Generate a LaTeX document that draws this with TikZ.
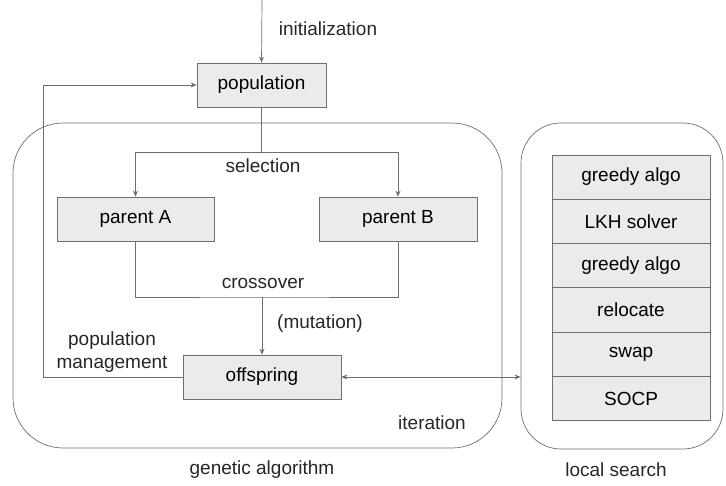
\documentclass[tikz,border=0pt]{standalone}
\usepackage{fontspec}
\setmainfont{Liberation Sans}
\usepackage{tikz}
\usetikzlibrary{arrows.meta,positioning,calc}
\definecolor{linegray}{HTML}{6E6E6E}
\definecolor{boxgray}{HTML}{EBEBEB}
\tikzset{
 box/.style={draw=linegray,fill=boxgray,minimum height=44pt,inner sep=0pt},
 frame/.style={draw=linegray,rounded corners=#1,inner sep=0pt},
 lbl/.style={inner sep=0pt,text=black!85,align=center}
}

\begin{document}
\begin{tikzpicture}[x=1pt,y=-1pt,font=\fontsize{19}{23}\selectfont,>={Stealth[length=6pt,width=5pt]},line width=0.7pt,draw=linegray]
\useasboundingbox (0,0) rectangle (726,486);
% frames
\node[frame=50pt,minimum width=489pt,minimum height=325pt](ga) at (257.5,285.5){};
\node[frame=40pt,minimum width=202pt,minimum height=326pt](ls) at (622,286){};
% boxes
\node[box,minimum width=129pt](pop) at (261.5,85){population};
\node[box,minimum width=157pt](parA) at (135.5,219){parent A};
\node[box,minimum width=158pt](parB) at (398,219){parent B};
\node[box,minimum width=158pt](offs) at (262,377){offspring};
\foreach \i/\t in {1/greedy algo,2/LKH solver,3/greedy algo,4/relocate,5/swap,6/SOCP}
 {\node[box,minimum width=158pt,minimum height=44.3pt](ls\i) at (631,{154.9+(\i-0.5)*44.3}){\t};}
% labels
\node[lbl](init) at (328,29){initialization};
\node[lbl](selL) at (263,166){selection};
\node[lbl](crossL) at (263,283){crossover};
\node[lbl](mutL) at (320,324){(mutation)};
\node[lbl](pmL) at (112,352){population\\management};
\node[lbl](iterL) at (432,423){iteration};
\node[lbl](gaL) at (262,470){genetic algorithm};
\node[lbl](lsL) at (616,470){local search};
% connectors
\coordinate(top) at (262,0);
\coordinate(sel) at (261.5,152);
\coordinate(cross) at (262,297);
\coordinate(back) at (43,377);
\draw[->](top)--(pop.north);
\draw(pop.south)--(sel);
\draw[->](sel)-|(parA.north);
\draw[->](sel)-|(parB.north);
\draw(parA.south)|-(cross)-|(parB.south);
\draw[->](cross)--(offs.north);
\draw[->](offs.west)--(back)|-(pop.west);
\draw[<->](offs.east)--(offs.east-|ls.west);
\end{tikzpicture}
\end{document}
